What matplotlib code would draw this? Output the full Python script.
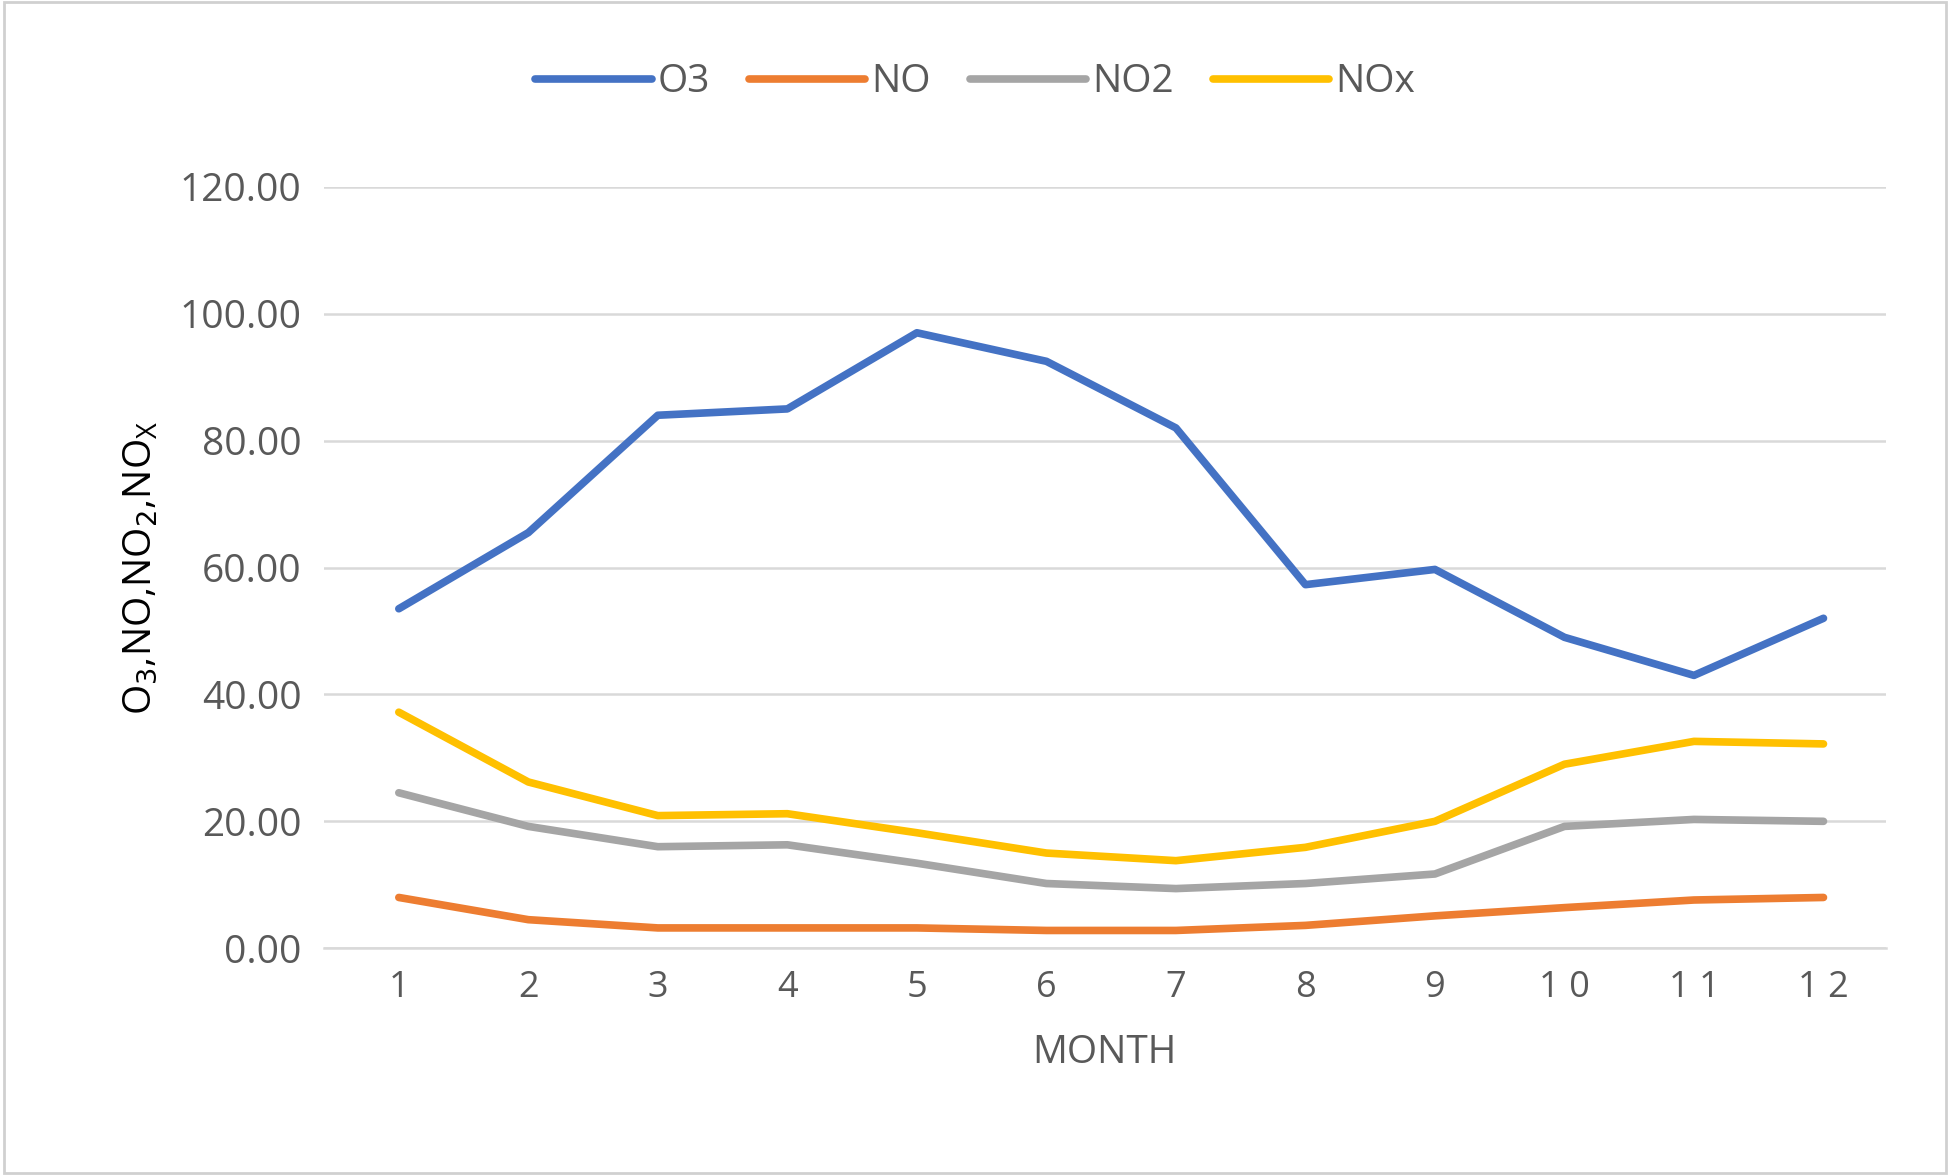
import matplotlib
matplotlib.use("Agg")
import matplotlib.pyplot as plt
from matplotlib.patches import Rectangle

months = list(range(1, 13))
o3 = [53.5, 65.5, 84.0, 85.0, 97.0, 92.5, 82.0, 57.3, 59.7, 49.0, 43.0, 52.0]
no = [8.0, 4.5, 3.2, 3.2, 3.2, 2.8, 2.8, 3.6, 5.1, 6.4, 7.6, 8.0]
no2 = [24.5, 19.2, 16.0, 16.3, 13.4, 10.2, 9.4, 10.2, 11.7, 19.2, 20.3, 20.0]
nox = [37.2, 26.2, 20.9, 21.2, 18.2, 15.0, 13.8, 15.9, 20.0, 29.0, 32.6, 32.2]
series = [("O3", o3, "#4472C4"), ("NO", no, "#ED7D31"), ("NO2", no2, "#A5A5A5"), ("NOx", nox, "#FFC000")]

plt.rcParams['font.family'] = ['Open Sans', 'DejaVu Sans']
fig = plt.figure(figsize=(19.5, 11.75), dpi=100)
fig.patches.append(Rectangle((0.002, 0.002), 0.996, 0.996, transform=fig.transFigure,
                             fill=False, edgecolor="#D0D0D0", linewidth=2))
ax = fig.add_axes([0.166, 0.193, 0.801, 0.648])
for name, vals, c in series:
    ax.plot(months, vals, color=c, linewidth=5.5, label=name, solid_capstyle='round')
ax.set_xlim(0.42, 12.48)
ax.set_ylim(0, 120)
ax.set_yticks(range(0, 121, 20))
ax.set_yticklabels([f"{v:.2f}" for v in range(0, 121, 20)])
ax.set_xticks(months)
ax.set_xticklabels([" ".join(str(m)) for m in months])
ax.grid(axis='y', color="#D9D9D9", linewidth=1.8)
ax.set_axisbelow(True)
for s in ['top', 'right', 'left']:
    ax.spines[s].set_visible(False)
ax.spines['bottom'].set_color("#D9D9D9")
ax.spines['bottom'].set_linewidth(1.8)
ax.tick_params(length=0, labelsize=28, colors="#595959", pad=16)
ax.tick_params(axis='x', labelsize=26)
ax.set_xlabel("MONTH", fontsize=28, color="#595959", labelpad=20)
ax.set_ylabel(r"O$_3$,NO,NO$_2$,NO$_\mathregular{X}$", fontsize=28, color="#000000", labelpad=14)
fig.legend(loc='center', bbox_to_anchor=(0.5, 0.93), ncol=4, frameon=False,
           fontsize=28, handlelength=3.0, handletextpad=0.15, columnspacing=1.0,
           labelcolor="#595959")
fig.savefig("out.png", dpi=100)
